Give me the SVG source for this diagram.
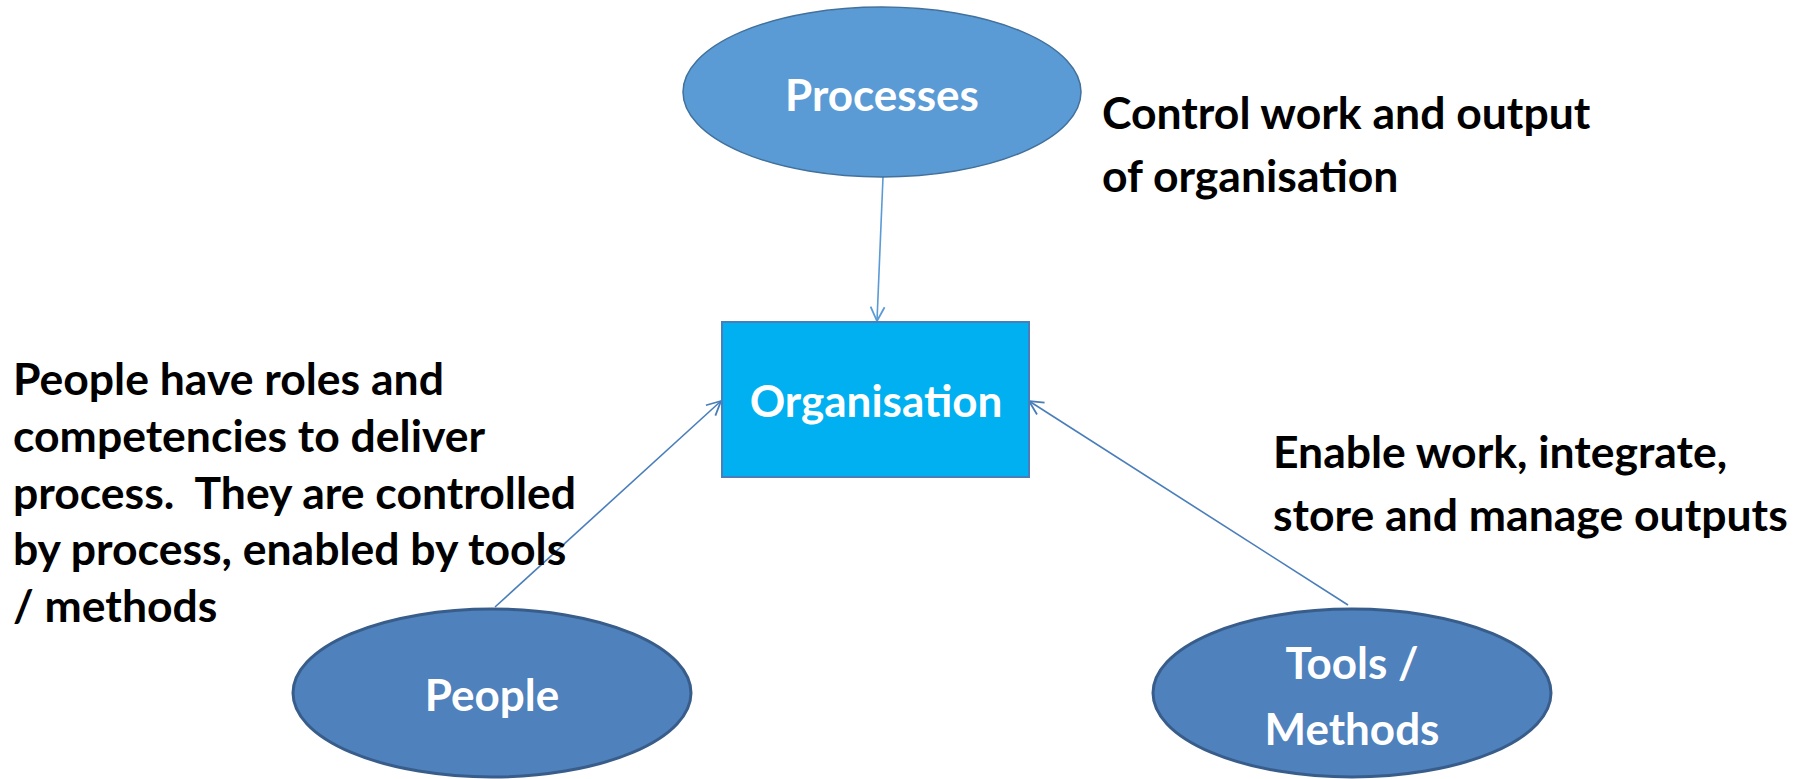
<svg xmlns="http://www.w3.org/2000/svg" width="1814" height="779" viewBox="0 0 1814 779">
  <style>
    .label { font-family: Lato, "Open Sans", "Liberation Sans", sans-serif; font-weight: bold; }
    .node-text { fill: #ffffff; font-size: 44px; text-anchor: middle; }
    .note { fill: #000000; font-size: 44.5px; }
    .edge { fill: none; stroke-width: 1.6; }
  </style>
  <defs>
    <marker id="arrow-light" viewBox="0 0 16 16" refX="15" refY="8" markerWidth="16" markerHeight="16" markerUnits="userSpaceOnUse" orient="auto">
      <path d="M1,1 L15,8 L1,15" fill="none" stroke="#5B9BD5" stroke-width="1.8"/>
    </marker>
    <marker id="arrow-dark" viewBox="0 0 16 16" refX="15" refY="8" markerWidth="16" markerHeight="16" markerUnits="userSpaceOnUse" orient="auto">
      <path d="M1,1 L15,8 L1,15" fill="none" stroke="#4A7EBB" stroke-width="1.8"/>
    </marker>
  </defs>

  <rect width="1814" height="779" fill="#ffffff"/>

  <g id="connectors">
    <line class="edge" x1="883" y1="177" x2="877" y2="321" stroke="#5B9BD5" marker-end="url(#arrow-light)"/>
    <line class="edge" x1="495" y1="607" x2="721" y2="401" stroke="#4A7EBB" marker-end="url(#arrow-dark)"/>
    <line class="edge" x1="1348" y1="605" x2="1029" y2="401" stroke="#4A7EBB" marker-end="url(#arrow-dark)"/>
  </g>

  <g id="processes">
    <ellipse cx="882" cy="92" rx="199" ry="85" fill="#5B9BD5" stroke="#41719C" stroke-width="1.5"/>
    <text class="label node-text" x="882" y="111">Processes</text>
  </g>

  <g id="organisation">
    <rect x="722" y="322" width="307" height="155" fill="#00B0F0" stroke="#4A7EBB" stroke-width="2"/>
    <text class="label node-text" x="876" y="417">Organisation</text>
  </g>

  <g id="people">
    <ellipse cx="492" cy="693" rx="199" ry="84" fill="#4F81BD" stroke="#385D8A" stroke-width="3"/>
    <text class="label node-text" x="492" y="711">People</text>
  </g>

  <g id="tools-methods">
    <ellipse cx="1352" cy="693" rx="199" ry="84" fill="#4F81BD" stroke="#385D8A" stroke-width="3"/>
    <text class="label node-text" x="1352" y="679">Tools /</text>
    <text class="label node-text" x="1352" y="745">Methods</text>
  </g>

  <g id="notes">
    <text class="label note" x="1102" y="129">Control work and output</text>
    <text class="label note" x="1102" y="192">of organisation</text>

    <text class="label note" x="1273" y="468">Enable work, integrate,</text>
    <text class="label note" x="1273" y="531">store and manage outputs</text>

    <text class="label note" x="13" y="395">People have roles and</text>
    <text class="label note" x="13" y="452">competencies to deliver</text>
    <text class="label note" x="13" y="509" xml:space="preserve">process.  They are controlled</text>
    <text class="label note" x="13" y="565">by process, enabled by tools</text>
    <text class="label note" x="13" y="622">/ methods</text>
  </g>
</svg>
